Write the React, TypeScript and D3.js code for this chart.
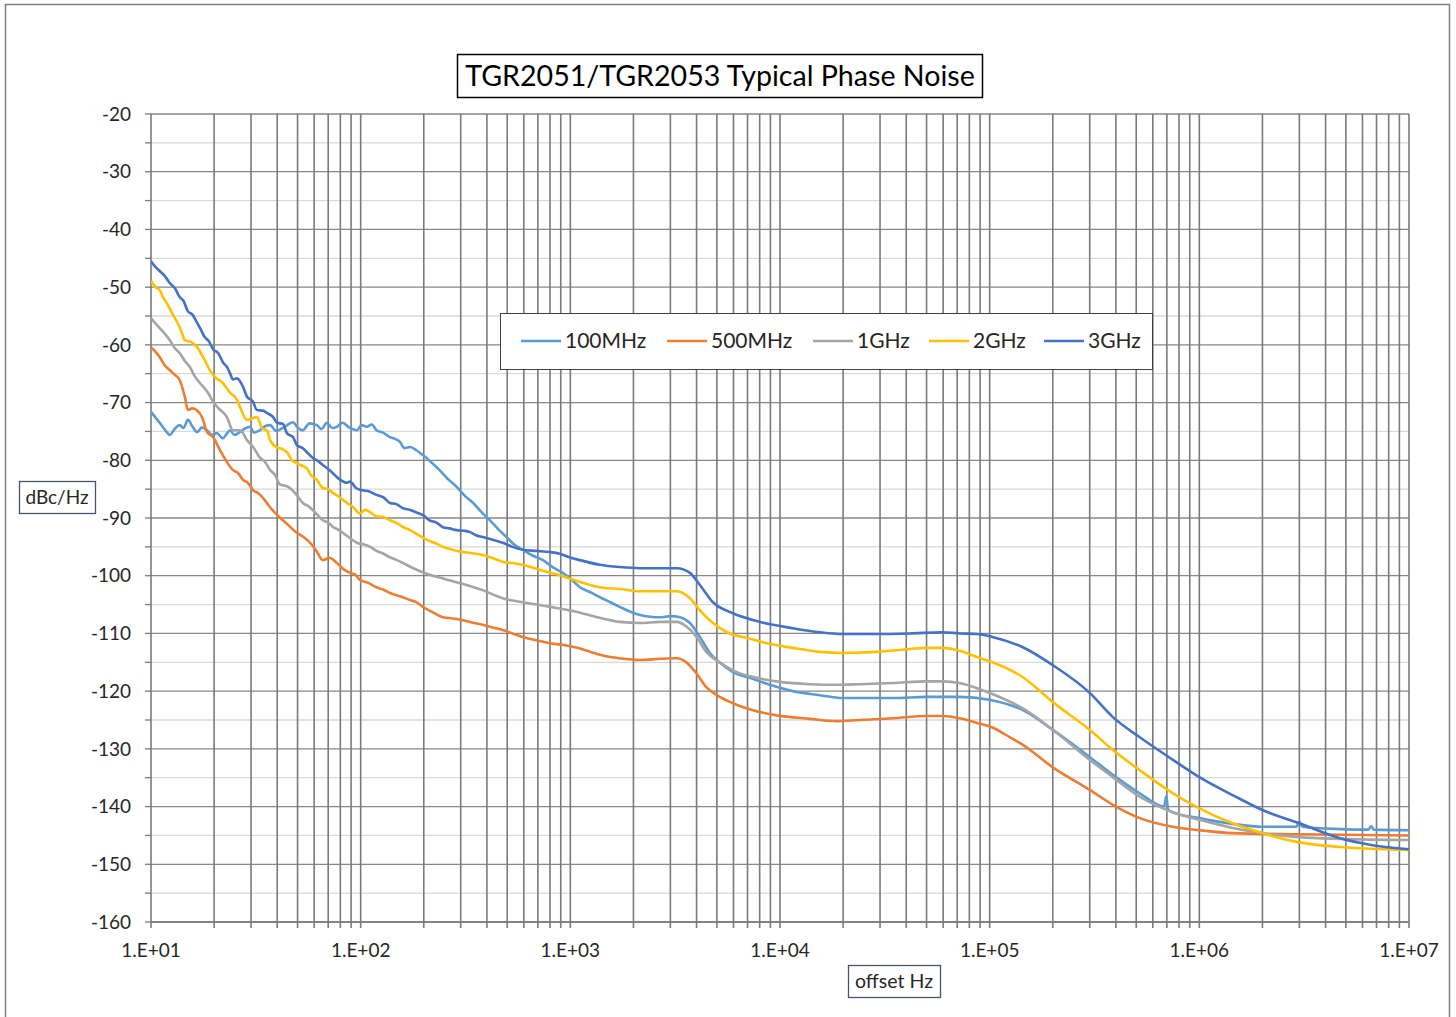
import { useEffect, useRef } from "react";
import * as d3 from "d3";

type Pt = [number, number];

// offset frequency (Hz) / phase noise (dBc/Hz)
const s100MHz: Pt[] = [
  [10, -71.6], [11, -73.5], [11.6, -74.6], [12.3, -75.6], [13, -74.5], [13.7, -73.9], [14.3, -74.4], [15, -73],
  [15.8, -74.2], [16.6, -75.1], [17.5, -74.3], [18.5, -74.8], [19.5, -75.6], [20.6, -75.3], [22, -76.2], [23, -75.4],
  [23.8, -74.8], [25, -75.6], [26.6, -75.1], [28, -74.5], [29.7, -74.2], [31, -75.2], [33, -74.8], [35, -74.1],
  [37, -73.9], [39.5, -74.9], [42.6, -74.4], [45, -73.8], [47.6, -73.4], [50, -74.3], [53, -74.8], [57, -73.6],
  [61.8, -73.9], [65, -74.6], [69, -73.5], [73, -74.4], [77, -74.2], [82, -73.5], [88, -74.3], [96, -74.8],
  [101, -73.9], [107, -74.2], [113, -73.8], [119, -74.8], [128, -75.2], [138, -76], [146, -76.3], [154, -76.8],
  [162, -77.9], [172, -77.7], [185, -78.3], [198, -79.1], [215, -80.2], [238, -81.7], [260, -83.2], [287, -84.6],
  [315, -86.2], [344, -87.4], [380, -89.1], [414, -90.4], [455, -92], [496, -93.3], [540, -94.6], [592, -95.5],
  [660, -96.5], [740, -97.3], [830, -98.6], [920, -99.5], [1000, -100.5], [1110, -102], [1250, -102.9], [1380, -103.7],
  [1550, -104.6], [1720, -105.4], [1920, -106.2], [2150, -106.8], [2400, -107.1], [2680, -107.2], [3000, -107],
  [3340, -107.2], [3720, -108.2], [4150, -110.6], [4630, -113.4], [5180, -115.1], [5960, -116.7], [7180, -117.7],
  [8950, -118.9], [11500, -120], [15500, -120.7], [19800, -121.2], [34600, -121.2], [50000, -121], [72000, -121],
  [99500, -121.5], [144000, -123.3], [200000, -126.7], [300000, -131.4], [387000, -134.5], [520000, -137.7],
  [680000, -140], [695000, -138.2], [710000, -140.5], [748000, -141], [1000000, -142], [1440000, -143],
  [2000000, -143.5], [2900000, -143.5], [3000000, -142.6], [3100000, -143.5], [4700000, -143.9], [6400000, -144],
  [6600000, -143.4], [6800000, -144], [10000000, -144.1],
];

const s500MHz: Pt[] = [
  [10, -60.4], [11, -62.1], [11.6, -63.5], [12.3, -64.4], [13, -65.2], [13.7, -66.1], [14.5, -69], [15, -71.3],
  [15.7, -71], [16.5, -71.3], [17.5, -72.5], [18.5, -75.1], [19.8, -76], [21.3, -78.2], [23, -80.3], [24.6, -81.7],
  [26, -82.2], [27.5, -83.4], [29, -83.9], [30.7, -85.2], [32.5, -85.7], [34.2, -86.5], [36.9, -88.1], [39.5, -89.3],
  [42.6, -90.4], [46, -91.5], [49.7, -92.6], [53, -93.2], [57.4, -94.3], [61, -95.5], [66, -97.3], [71, -96.9],
  [77, -97.8], [83, -98.9], [89, -99.5], [95, -99.9], [99, -100.7], [108, -101.2], [119, -102], [128, -102.4],
  [138, -103], [155, -103.6], [172, -104.2], [185, -104.6], [198, -105.4], [220, -106.3], [247, -107.2], [275, -107.4],
  [307, -107.7], [340, -108.1], [382, -108.5], [430, -109], [476, -109.4], [530, -110], [592, -110.6], [690, -111.2],
  [800, -111.7], [930, -112], [1078, -112.5], [1250, -113.2], [1380, -113.7], [1720, -114.3], [2150, -114.6],
  [2680, -114.4], [3220, -114.3], [3600, -115.1], [3990, -116.9], [4450, -119.3], [5000, -120.7], [5960, -122.1],
  [7430, -123.3], [9660, -124.2], [13900, -124.8], [18600, -125.2], [23900, -125], [34600, -124.7], [50000, -124.3],
  [59600, -124.3], [72000, -124.7], [87000, -125.5], [103000, -126.3], [125000, -128], [144000, -129.3],
  [200000, -133.2], [300000, -137.1], [387000, -139.7], [520000, -142], [748000, -143.5], [1000000, -144.1],
  [1440000, -144.6], [3000000, -144.8], [10000000, -145],
];

const s1GHz: Pt[] = [
  [10, -55.4], [11, -57.1], [11.6, -58], [12.3, -59.2], [13, -60.6], [13.7, -61.4], [14.5, -62.8], [15.3, -63.8],
  [16.2, -65.5], [17.1, -66.6], [18.7, -68.3], [19.8, -69.9], [20.9, -70.9], [23, -72.5], [24.6, -74.8], [26.6, -74.8],
  [28.7, -76.5], [30.7, -77.7], [33, -79.5], [35, -80.3], [37, -81.7], [39, -82.5], [41.2, -84.2], [44.5, -84.5],
  [47.6, -85.3], [50, -86.2], [53, -87.4], [56, -87.9], [59, -88.6], [62, -89.4], [66, -90.4], [70, -90.8],
  [74, -91.6], [78, -92], [82.4, -92.6], [89, -93.5], [96, -94.3], [104, -94.6], [111, -95], [119, -95.7],
  [127, -96.1], [138, -96.8], [149, -97.3], [165, -98.1], [186, -99], [205, -99.6], [231, -100.2], [265, -100.8],
  [298, -101.3], [340, -101.9], [382, -102.5], [430, -103.3], [476, -103.9], [530, -104.3], [592, -104.6], [690, -105],
  [800, -105.4], [930, -105.8], [1078, -106.3], [1250, -106.9], [1380, -107.3], [1720, -108], [2150, -108.2],
  [2680, -108], [3220, -108], [3600, -108.9], [4000, -110.6], [4450, -113.2], [5180, -115.1], [6220, -116.7],
  [7770, -117.7], [10000, -118.4], [13900, -118.8], [18600, -118.9], [23900, -118.8], [34600, -118.6], [50000, -118.3],
  [59600, -118.3], [72000, -118.6], [87000, -119.5], [103000, -120.5], [144000, -123], [200000, -126.7],
  [300000, -131.9], [387000, -134.9], [520000, -138.3], [748000, -141], [1000000, -142.3], [1440000, -143.7],
  [2000000, -144.6], [3000000, -145.3], [4700000, -145.6], [10000000, -145.8],
];

const s2GHz: Pt[] = [
  [10, -48.9], [10.5, -50], [11, -50.5], [11.4, -51.7], [12, -53], [12.6, -54.5], [13.3, -56], [14, -57.8],
  [14.5, -59.2], [15.5, -59.5], [16.6, -60.4], [17.7, -62.1], [19.1, -64.4], [20.2, -65.6], [22, -66.6], [23.8, -68.3],
  [25.7, -69.5], [26.6, -70.8], [28.7, -73], [30, -72.8], [32, -72.5], [34, -74.5], [35.7, -74.8], [37, -76.5],
  [40, -77.8], [42, -78], [44.5, -78.6], [47, -80], [49.7, -80.5], [52, -80.9], [55.4, -81.4], [58, -82.6],
  [61.8, -83.4], [66, -84.8], [70, -85], [74, -85.7], [78, -86.2], [82.4, -86.9], [87, -87.5], [92, -88.1],
  [99, -89.2], [105, -88.6], [111, -89], [119, -89.7], [127, -89.8], [138, -90.4], [149, -90.9], [160, -91.6],
  [172, -92.1], [190, -93], [207, -93.8], [225, -94.3], [247, -95], [275, -95.5], [307, -95.9], [340, -96.1],
  [382, -96.4], [430, -97], [476, -97.6], [530, -97.8], [592, -98.1], [690, -98.8], [800, -99.5], [890, -99.9],
  [991, -100.5], [1110, -101.1], [1380, -102], [1720, -102.3], [2150, -102.7], [2680, -102.7], [3220, -102.7],
  [3720, -103.9], [4150, -106], [4790, -108.2], [5590, -109.8], [6950, -110.8], [8660, -111.7], [11500, -112.5],
  [15500, -113.2], [19800, -113.4], [29000, -113.2], [41600, -112.7], [50000, -112.5], [59600, -112.5], [72000, -113],
  [87000, -114.1], [103000, -115], [144000, -117.6], [200000, -121.9], [300000, -126.7], [387000, -130.2],
  [520000, -133.7], [748000, -137.7], [1000000, -140.3], [1440000, -142.9], [2000000, -144.6], [3000000, -146.2],
  [4700000, -147], [10000000, -147.5],
];

const s3GHz: Pt[] = [
  [10, -45.5], [10.5, -46.5], [11, -47.2], [11.6, -48], [12.3, -49.3], [13, -50.2], [13.7, -51.7], [14.3, -52.4],
  [15, -54.2], [15.8, -54.8], [16.5, -56], [17.2, -57.2], [18, -58.6], [18.9, -59.4], [19.8, -60.8], [20.9, -61.4],
  [22.1, -63.1], [23, -63.8], [23.8, -64.9], [24.6, -66], [25.7, -65.8], [27.5, -67.3], [28.7, -69], [30.6, -69.8],
  [32, -71.3], [34.2, -71.4], [35.7, -71.8], [38.2, -72.5], [40, -73.5], [42.6, -73.7], [44.5, -75.3], [47.6, -76],
  [49.7, -77.4], [53, -77.9], [55.4, -78.6], [59.2, -79.6], [61.8, -80], [66, -80.8], [71, -81.7], [77, -82.9],
  [80, -83.4], [86, -83.9], [89, -83.7], [95, -84.8], [102, -85.2], [110, -85.4], [119, -86], [128, -86.4],
  [138, -87.4], [148, -87.6], [159, -88.3], [172, -88.6], [186, -89.1], [200, -89.6], [213, -90.4], [230, -90.8],
  [247, -91.6], [265, -91.8], [287, -92.1], [310, -92.2], [331, -92.4], [355, -93], [382, -93.3], [430, -93.8],
  [476, -94.3], [530, -95], [592, -95.5], [690, -95.7], [800, -95.9], [890, -96.2], [991, -96.8], [1110, -97.3],
  [1380, -98.1], [1720, -98.5], [2150, -98.7], [2680, -98.7], [3220, -98.7], [3720, -99.5], [4150, -101.6],
  [4790, -104.6], [5960, -106.5], [8020, -108], [11500, -109.1], [15500, -109.8], [19800, -110.1], [29000, -110.1],
  [41600, -110], [59600, -109.8], [72000, -110], [87000, -110.1], [103000, -110.6], [144000, -112.4], [200000, -115.5],
  [300000, -120.3], [387000, -124.5], [520000, -128], [748000, -131.9], [1000000, -134.9], [1440000, -138],
  [2000000, -140.6], [3000000, -142.9], [4700000, -145.5], [6700000, -146.7], [10000000, -147.4],
];

const seriesNames = ["100MHz", "500MHz", "1GHz", "2GHz", "3GHz"];
const seriesData = [s100MHz, s500MHz, s1GHz, s2GHz, s3GHz];
const seriesColors = ["#5b9bd5", "#ed7d31", "#a5a5a5", "#ffc000", "#4472c4"];

const yTicks = [-20, -30, -40, -50, -60, -70, -80, -90, -100, -110, -120, -130, -140, -150, -160];
const xDecades = [1e1, 1e2, 1e3, 1e4, 1e5, 1e6, 1e7];
const xTickLabels = ["1.E+01", "1.E+02", "1.E+03", "1.E+04", "1.E+05", "1.E+06", "1.E+07"];

const W = 1456;
const H = 1017;
const FONT = "Lato, 'Open Sans', sans-serif";

const App = () => {
  const svgRef = useRef<SVGSVGElement | null>(null);

  useEffect(() => {
    if (!svgRef.current) return;
    const svg = d3.select(svgRef.current);
    svg.selectAll("*").remove();

    const left = 151, right = 1409, top = 114, bottom = 922;

    const x = d3.scaleLog().domain([1e1, 1e7]).range([left, right]);
    const y = d3.scaleLinear().domain([-160, -20]).range([bottom, top]);

    svg.append("rect").attr("width", W).attr("height", H).attr("fill", "#fff");
    // outer chart border
    svg.append("rect")
      .attr("x", 5.5).attr("y", 4.5).attr("width", 1444).attr("height", 1040)
      .attr("fill", "none").attr("stroke", "#7f7f7f").attr("stroke-width", 1.5);

    // minor horizontal grid (5 dB)
    const minorY = d3.range(-155, -20, 10);
    svg.append("g").selectAll("line").data(minorY).enter().append("line")
      .attr("x1", left).attr("x2", right)
      .attr("y1", (d) => y(d)).attr("y2", (d) => y(d))
      .attr("stroke", "#d9d9d9").attr("stroke-width", 1.3);

    // major horizontal grid
    svg.append("g").selectAll("line").data(yTicks).enter().append("line")
      .attr("x1", left).attr("x2", right)
      .attr("y1", (d) => y(d)).attr("y2", (d) => y(d))
      .attr("stroke", "#878787").attr("stroke-width", 1.3);

    // vertical log grid
    const vGrid: number[] = [];
    xDecades.slice(0, -1).forEach((dec) => {
      for (let k = 1; k <= 9; k++) vGrid.push(dec * k);
    });
    vGrid.push(1e7);
    svg.append("g").selectAll("line").data(vGrid).enter().append("line")
      .attr("x1", (d) => x(d)).attr("x2", (d) => x(d))
      .attr("y1", top).attr("y2", bottom + 6)
      .attr("stroke", "#7a7a7a").attr("stroke-width", 1.6);

    // axes lines and y ticks
    svg.append("line").attr("x1", left).attr("x2", right).attr("y1", bottom).attr("y2", bottom)
      .attr("stroke", "#7a7a7a").attr("stroke-width", 1.3);
    svg.append("g").selectAll("line").data(d3.range(-160, -19, 5)).enter().append("line")
      .attr("x1", left - 6).attr("x2", left)
      .attr("y1", (d) => y(d)).attr("y2", (d) => y(d))
      .attr("stroke", "#7a7a7a").attr("stroke-width", 1.3);

    // y tick labels
    svg.append("g").selectAll("text").data(yTicks).enter().append("text")
      .attr("x", 131).attr("y", (d) => y(d))
      .attr("dy", "0.35em").attr("text-anchor", "end")
      .attr("font-family", FONT).attr("font-size", 19).attr("fill", "#262626")
      .text((d) => String(d));

    // x tick labels
    svg.append("g").selectAll("text").data(xDecades).enter().append("text")
      .attr("x", (d) => x(d)).attr("y", 957)
      .attr("text-anchor", "middle")
      .attr("font-family", FONT).attr("font-size", 19).attr("fill", "#262626")
      .text((_d, i) => xTickLabels[i]);

    // series
    svg.append("clipPath").attr("id", "plotClip")
      .append("rect").attr("x", left).attr("y", top).attr("width", right - left).attr("height", bottom - top);

    const line = d3.line<Pt>()
      .x((d) => x(d[0]))
      .y((d) => y(d[1]))
      .curve(d3.curveMonotoneX);
    const lines = svg.append("g").attr("clip-path", "url(#plotClip)");
    seriesData.forEach((s, i) => {
      lines.append("path").datum(s)
        .attr("d", line)
        .attr("fill", "none")
        .attr("stroke", seriesColors[i])
        .attr("stroke-width", 2.6)
        .attr("stroke-linejoin", "round");
    });

    // title
    svg.append("rect").attr("x", 457.5).attr("y", 54.5).attr("width", 525).attr("height", 43)
      .attr("fill", "#fff").attr("stroke", "#000").attr("stroke-width", 1.5);
    svg.append("text").attr("x", 720).attr("y", 76).attr("dy", "0.36em")
      .attr("text-anchor", "middle").attr("font-family", FONT).attr("font-size", 28.6).attr("fill", "#000")
      .text("TGR2051/TGR2053 Typical Phase Noise");

    // legend
    const lg = svg.append("g");
    lg.append("rect").attr("x", 500.5).attr("y", 313.5).attr("width", 652).attr("height", 56)
      .attr("fill", "#fff").attr("stroke", "#404040").attr("stroke-width", 1);
    const legendX = [521, 667, 813, 929, 1044];
    seriesNames.forEach((name, i) => {
      lg.append("line").attr("x1", legendX[i]).attr("x2", legendX[i] + 40)
        .attr("y1", 341).attr("y2", 341)
        .attr("stroke", seriesColors[i]).attr("stroke-width", 2.6);
      lg.append("text").attr("x", legendX[i] + 44).attr("y", 341).attr("dy", "0.35em")
        .attr("font-family", FONT).attr("font-size", 21).attr("fill", "#262626")
        .text(name);
    });

    // axis titles
    svg.append("rect").attr("x", 19.5).attr("y", 481.5).attr("width", 76).attr("height", 32)
      .attr("fill", "#fff").attr("stroke", "#44546a").attr("stroke-width", 1.3);
    svg.append("text").attr("x", 57).attr("y", 497).attr("dy", "0.35em")
      .attr("text-anchor", "middle").attr("font-family", FONT).attr("font-size", 19).attr("fill", "#262626")
      .text("dBc/Hz");
    svg.append("rect").attr("x", 848.5).attr("y", 965.5).attr("width", 92).attr("height", 32)
      .attr("fill", "#fff").attr("stroke", "#44546a").attr("stroke-width", 1.3);
    svg.append("text").attr("x", 894).attr("y", 981).attr("dy", "0.35em")
      .attr("text-anchor", "middle").attr("font-family", FONT).attr("font-size", 19.5).attr("fill", "#262626")
      .text("offset Hz");
  }, []);

  return (
    <div style={{ position: "absolute", left: 0, top: 0, width: W, height: H, overflow: "hidden" }}>
      <svg ref={svgRef} width={W} height={H} style={{ display: "block" }} />
    </div>
  );
};

export default App;
